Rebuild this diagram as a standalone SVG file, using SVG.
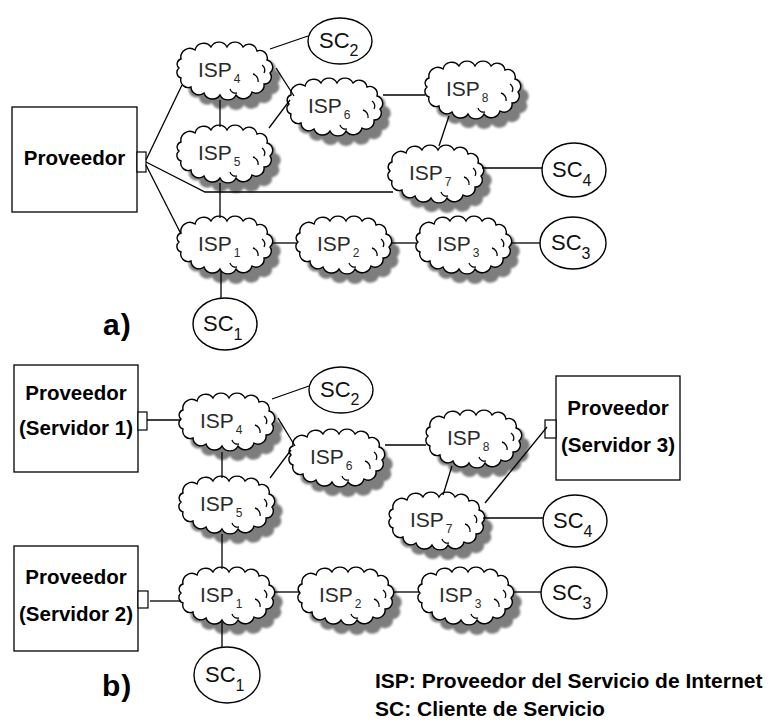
<svg xmlns="http://www.w3.org/2000/svg" xmlns:xlink="http://www.w3.org/1999/xlink" width="772" height="727" viewBox="0 0 772 727">
  <style>
    .cloud { fill: #ffffff; stroke: #000000; stroke-width: 1.4; }
    .shadow { fill: #7d7d7d; }
    .curl { fill: none; stroke: #000000; stroke-width: 1.3; }
    .sc { fill: #ffffff; stroke: #000000; stroke-width: 1.4; }
    .box { fill: #ffffff; stroke: #000000; stroke-width: 1.3; }
    .port { fill: #ffffff; stroke: #000000; stroke-width: 1.2; }
    .wire { fill: none; stroke: #000000; stroke-width: 1.3; }
    .isp { font-family: "Liberation Sans", Arial, sans-serif; font-size: 21px; fill: #2a2a2a; }
    .isp .sub { font-size: 12px; }
    .scl { font-family: "Liberation Sans", Arial, sans-serif; font-size: 22px; fill: #111111; }
    .scl .sub { font-size: 16px; }
    .prov { font-family: "Liberation Sans", Arial, sans-serif; font-size: 20.5px; font-weight: bold; fill: #000000; text-anchor: middle; }
    .tag { font-family: "Liberation Sans", Arial, sans-serif; font-size: 30px; font-weight: bold; fill: #000000; letter-spacing: 1px; }
    .legend { font-family: "Liberation Sans", Arial, sans-serif; font-size: 21px; font-weight: bold; fill: #000000; }
  </style>
  <defs>
    <!-- scalloped cloud outline, centred on the origin -->
    <path id="cloud" d="M -44 -12 A 9 9 0 0 1 -30 -21 A 9 9 0 0 1 -14 -24 A 9 9 0 0 1 2 -24 A 9 9 0 0 1 18 -24 A 8 8 0 0 1 32 -20 A 7.5 7.5 0 0 1 42 -11 A 7.5 7.5 0 0 1 45 2 A 7 7 0 0 1 39 13 A 8 8 0 0 1 27 21 A 9 9 0 0 1 11 24 A 9 9 0 0 1 -5 24 A 9 9 0 0 1 -21 22 A 8 8 0 0 1 -34 16 A 7.5 7.5 0 0 1 -44 7 A 5.8 5.8 0 0 1 -46 -3 A 5.2 5.2 0 0 1 -44 -12 Z"/>
    <!-- small inner curls of the cloud outline -->
    <path id="curls" d="M 28 3 A 7 7 0 0 1 33 11 M 37 -6 A 6 6 0 0 1 39 2 M 5 18 A 6 6 0 0 0 12 22"/>
    <filter id="soft" x="-20%" y="-20%" width="140%" height="140%">
      <feGaussianBlur stdDeviation="0.8"/>
    </filter>
  </defs>

  <!-- ===== a) single provider ===== -->
  <g id="a-proveedor">
    <rect class="box" x="12" y="107" width="125" height="105"/>
    <rect class="port" x="137" y="152" width="9" height="20"/>
    <text class="prov" x="74.5" y="165">Proveedor</text>
  </g>

  <g id="a-isp4" transform="translate(225,71)">
    <use href="#cloud" class="shadow" x="8" y="10" filter="url(#soft)"/>
    <use href="#cloud" class="cloud"/>
    <use href="#curls" class="curl"/>
    <text class="isp" x="-27" y="6">ISP<tspan class="sub" dx="2" dy="6">4</tspan></text>
  </g>
  <g id="a-isp5" transform="translate(225,154)">
    <use href="#cloud" class="shadow" x="8" y="10" filter="url(#soft)"/>
    <use href="#cloud" class="cloud"/>
    <use href="#curls" class="curl"/>
    <text class="isp" x="-27" y="6">ISP<tspan class="sub" dx="2" dy="6">5</tspan></text>
  </g>
  <g id="a-isp6" transform="translate(335,107)">
    <use href="#cloud" class="shadow" x="8" y="10" filter="url(#soft)"/>
    <use href="#cloud" class="cloud"/>
    <use href="#curls" class="curl"/>
    <text class="isp" x="-27" y="6">ISP<tspan class="sub" dx="2" dy="6">6</tspan></text>
  </g>
  <g id="a-isp8" transform="translate(473,90)">
    <use href="#cloud" class="shadow" x="8" y="10" filter="url(#soft)"/>
    <use href="#cloud" class="cloud"/>
    <use href="#curls" class="curl"/>
    <text class="isp" x="-27" y="6">ISP<tspan class="sub" dx="2" dy="6">8</tspan></text>
  </g>
  <g id="a-isp7" transform="translate(436,174)">
    <use href="#cloud" class="shadow" x="8" y="10" filter="url(#soft)"/>
    <use href="#cloud" class="cloud"/>
    <use href="#curls" class="curl"/>
    <text class="isp" x="-27" y="6">ISP<tspan class="sub" dx="2" dy="6">7</tspan></text>
  </g>
  <g id="a-isp1" transform="translate(225,245)">
    <use href="#cloud" class="shadow" x="8" y="10" filter="url(#soft)"/>
    <use href="#cloud" class="cloud"/>
    <use href="#curls" class="curl"/>
    <text class="isp" x="-27" y="6">ISP<tspan class="sub" dx="2" dy="6">1</tspan></text>
  </g>
  <g id="a-isp2" transform="translate(344,245)">
    <use href="#cloud" class="shadow" x="8" y="10" filter="url(#soft)"/>
    <use href="#cloud" class="cloud"/>
    <use href="#curls" class="curl"/>
    <text class="isp" x="-27" y="6">ISP<tspan class="sub" dx="2" dy="6">2</tspan></text>
  </g>
  <g id="a-isp3" transform="translate(464,245)">
    <use href="#cloud" class="shadow" x="8" y="10" filter="url(#soft)"/>
    <use href="#cloud" class="cloud"/>
    <use href="#curls" class="curl"/>
    <text class="isp" x="-27" y="6">ISP<tspan class="sub" dx="2" dy="6">3</tspan></text>
  </g>

  <g id="a-sc2">
    <ellipse class="sc" cx="340" cy="41" rx="32" ry="23"/>
    <text class="scl" x="319" y="48">SC<tspan class="sub" dy="8">2</tspan></text>
  </g>
  <g id="a-sc4">
    <ellipse class="sc" cx="574" cy="170" rx="32" ry="27"/>
    <text class="scl" x="552" y="177">SC<tspan class="sub" dy="9">4</tspan></text>
  </g>
  <g id="a-sc3">
    <ellipse class="sc" cx="573" cy="243" rx="33" ry="26"/>
    <text class="scl" x="551" y="250">SC<tspan class="sub" dy="9">3</tspan></text>
  </g>
  <g id="a-sc1">
    <ellipse class="sc" cx="225" cy="324" rx="32" ry="26"/>
    <text class="scl" x="203" y="331">SC<tspan class="sub" dy="9">1</tspan></text>
  </g>

  <text id="a-tag" class="tag" x="103" y="335">a)</text>

  <!-- ===== b) three providers ===== -->
  <g id="b-servidor1">
    <rect class="box" x="14" y="365" width="124" height="107"/>
    <rect class="port" x="138" y="412" width="9" height="18"/>
    <text class="prov" x="76" y="400">Proveedor</text>
    <text class="prov" x="76" y="435">(Servidor 1)</text>
  </g>
  <g id="b-servidor2">
    <rect class="box" x="14" y="546" width="124" height="105"/>
    <rect class="port" x="138" y="591" width="10" height="17"/>
    <text class="prov" x="76" y="584">Proveedor</text>
    <text class="prov" x="76" y="621">(Servidor 2)</text>
  </g>
  <g id="b-servidor3">
    <rect class="box" x="556" y="376" width="124" height="104"/>
    <rect class="port" x="545" y="420" width="11" height="18"/>
    <text class="prov" x="618" y="415">Proveedor</text>
    <text class="prov" x="618" y="452">(Servidor 3)</text>
  </g>

  <g id="b-isp4" transform="translate(227,422)">
    <use href="#cloud" class="shadow" x="8" y="10" filter="url(#soft)"/>
    <use href="#cloud" class="cloud"/>
    <use href="#curls" class="curl"/>
    <text class="isp" x="-27" y="6">ISP<tspan class="sub" dx="2" dy="6">4</tspan></text>
  </g>
  <g id="b-isp5" transform="translate(227,505)">
    <use href="#cloud" class="shadow" x="8" y="10" filter="url(#soft)"/>
    <use href="#cloud" class="cloud"/>
    <use href="#curls" class="curl"/>
    <text class="isp" x="-27" y="6">ISP<tspan class="sub" dx="2" dy="6">5</tspan></text>
  </g>
  <g id="b-isp6" transform="translate(337,458)">
    <use href="#cloud" class="shadow" x="8" y="10" filter="url(#soft)"/>
    <use href="#cloud" class="cloud"/>
    <use href="#curls" class="curl"/>
    <text class="isp" x="-27" y="6">ISP<tspan class="sub" dx="2" dy="6">6</tspan></text>
  </g>
  <g id="b-isp8" transform="translate(474,439)">
    <use href="#cloud" class="shadow" x="8" y="10" filter="url(#soft)"/>
    <use href="#cloud" class="cloud"/>
    <use href="#curls" class="curl"/>
    <text class="isp" x="-27" y="6">ISP<tspan class="sub" dx="2" dy="6">8</tspan></text>
  </g>
  <g id="b-isp7" transform="translate(437,521)">
    <use href="#cloud" class="shadow" x="8" y="10" filter="url(#soft)"/>
    <use href="#cloud" class="cloud"/>
    <use href="#curls" class="curl"/>
    <text class="isp" x="-27" y="6">ISP<tspan class="sub" dx="2" dy="6">7</tspan></text>
  </g>
  <g id="b-isp1" transform="translate(227,596)">
    <use href="#cloud" class="shadow" x="8" y="10" filter="url(#soft)"/>
    <use href="#cloud" class="cloud"/>
    <use href="#curls" class="curl"/>
    <text class="isp" x="-27" y="6">ISP<tspan class="sub" dx="2" dy="6">1</tspan></text>
  </g>
  <g id="b-isp2" transform="translate(346,596)">
    <use href="#cloud" class="shadow" x="8" y="10" filter="url(#soft)"/>
    <use href="#cloud" class="cloud"/>
    <use href="#curls" class="curl"/>
    <text class="isp" x="-27" y="6">ISP<tspan class="sub" dx="2" dy="6">2</tspan></text>
  </g>
  <g id="b-isp3" transform="translate(466,596)">
    <use href="#cloud" class="shadow" x="8" y="10" filter="url(#soft)"/>
    <use href="#cloud" class="cloud"/>
    <use href="#curls" class="curl"/>
    <text class="isp" x="-27" y="6">ISP<tspan class="sub" dx="2" dy="6">3</tspan></text>
  </g>

  <g id="b-sc2">
    <ellipse class="sc" cx="341" cy="390" rx="32" ry="23"/>
    <text class="scl" x="320" y="397">SC<tspan class="sub" dy="8">2</tspan></text>
  </g>
  <g id="b-sc4">
    <ellipse class="sc" cx="575" cy="521" rx="32" ry="26"/>
    <text class="scl" x="553" y="528">SC<tspan class="sub" dy="9">4</tspan></text>
  </g>
  <g id="b-sc3">
    <ellipse class="sc" cx="574" cy="593" rx="33" ry="26"/>
    <text class="scl" x="552" y="600">SC<tspan class="sub" dy="9">3</tspan></text>
  </g>
  <g id="b-sc1">
    <ellipse class="sc" cx="227" cy="675" rx="33" ry="28"/>
    <text class="scl" x="205" y="682">SC<tspan class="sub" dy="9">1</tspan></text>
  </g>

  <text id="b-tag" class="tag" x="102" y="696">b)</text>

  <!-- legend -->
  <g id="legend">
    <text class="legend" x="375" y="688">ISP: Proveedor del Servicio de Internet</text>
    <text class="legend" x="375" y="716">SC: Cliente de Servicio</text>
  </g>

  <!-- links -->
  <g id="connectors" class="wire">
    <!-- a) -->
    <line x1="146" y1="160" x2="182" y2="85"/>
    <polyline points="146,162 205,192 393,192"/>
    <line x1="146" y1="165" x2="181" y2="234"/>
    <line x1="220" y1="100" x2="220" y2="127"/>
    <line x1="220" y1="183" x2="220" y2="218"/>
    <line x1="270" y1="49" x2="308" y2="36"/>
    <line x1="276" y1="68" x2="294" y2="96"/>
    <line x1="269" y1="128" x2="290" y2="100"/>
    <line x1="383" y1="95" x2="425" y2="95"/>
    <line x1="449" y1="116" x2="439" y2="146"/>
    <line x1="482" y1="168" x2="542" y2="168"/>
    <line x1="272" y1="243" x2="297" y2="243"/>
    <line x1="391" y1="243" x2="417" y2="243"/>
    <line x1="511" y1="243" x2="540" y2="243"/>
    <line x1="221" y1="271" x2="221" y2="298"/>
    <!-- b) -->
    <line x1="147" y1="420" x2="181" y2="420"/>
    <line x1="150" y1="601" x2="181" y2="601"/>
    <line x1="547" y1="427" x2="485" y2="503"/>
    <line x1="222" y1="452" x2="222" y2="478"/>
    <line x1="222" y1="534" x2="222" y2="569"/>
    <line x1="272" y1="399" x2="309" y2="386"/>
    <line x1="278" y1="418" x2="295" y2="446"/>
    <line x1="270" y1="478" x2="291" y2="450"/>
    <line x1="385" y1="445" x2="426" y2="445"/>
    <line x1="452" y1="466" x2="443" y2="495"/>
    <line x1="483" y1="518" x2="543" y2="518"/>
    <line x1="274" y1="592" x2="299" y2="592"/>
    <line x1="393" y1="592" x2="419" y2="592"/>
    <line x1="513" y1="592" x2="541" y2="592"/>
    <line x1="222" y1="622" x2="222" y2="647"/>
  </g>
</svg>
